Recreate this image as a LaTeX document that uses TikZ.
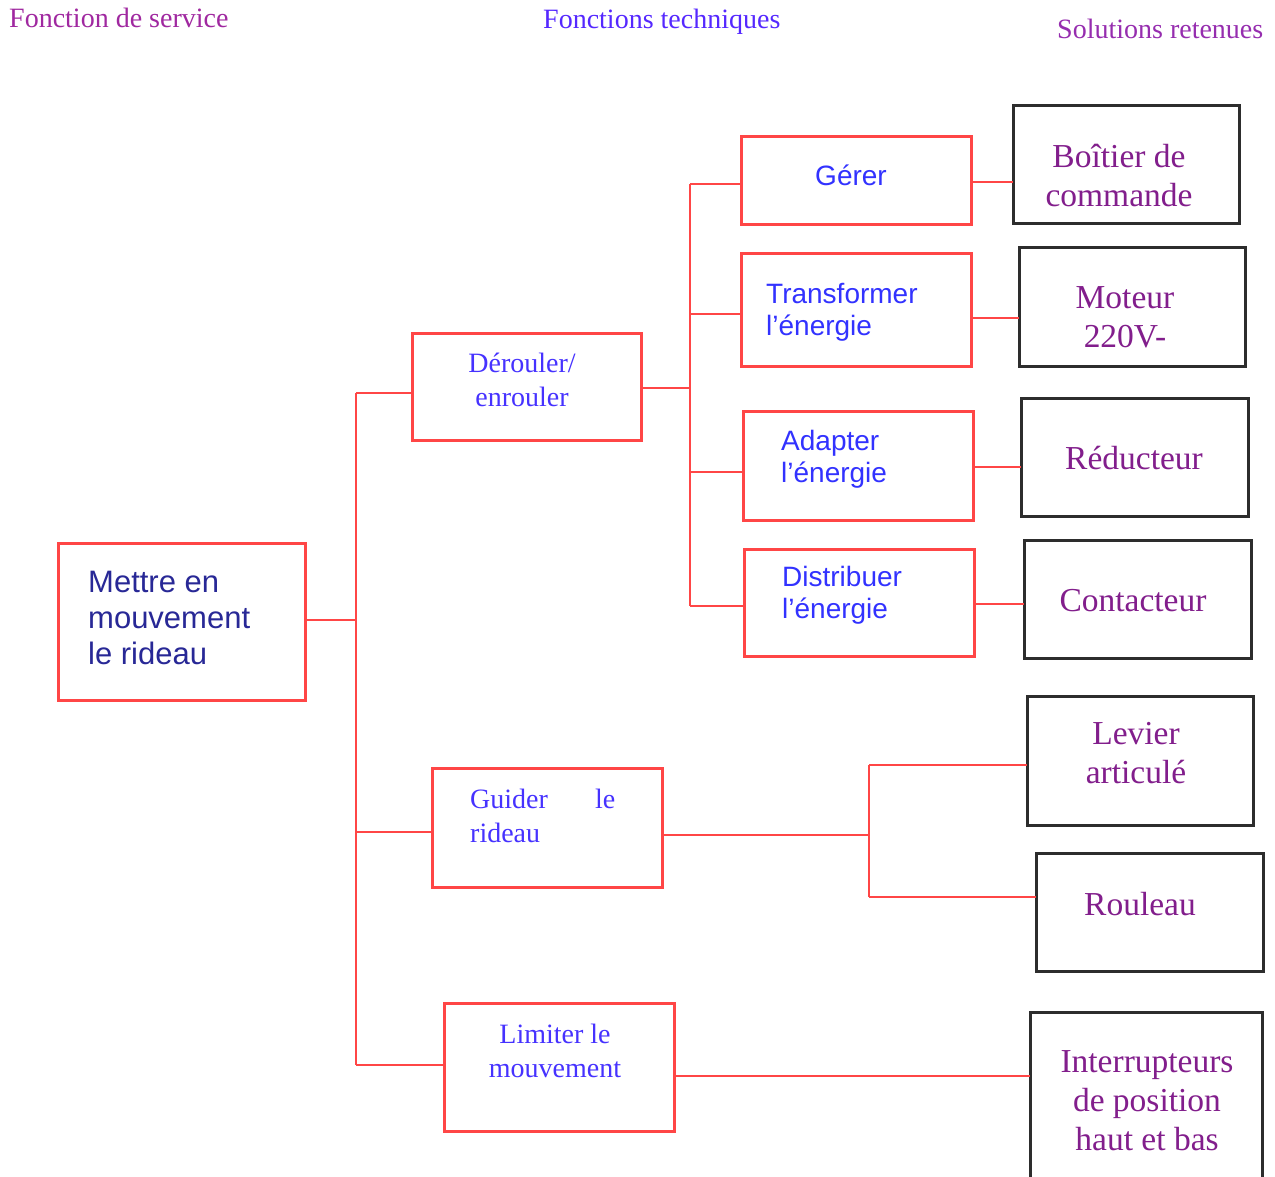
\documentclass[tikz,border=0pt]{standalone}
\usepackage{fontspec}
\setmainfont{Liberation Serif}
\newfontfamily\arialf{Liberation Sans}
\definecolor{redl}{RGB}{255,70,70}
\definecolor{boxk}{RGB}{45,45,45}
\definecolor{hpurple}{RGB}{160,40,160}
\definecolor{hblue}{RGB}{85,40,255}
\definecolor{hsol}{RGB}{150,45,175}
\definecolor{solt}{RGB}{130,30,140}
\definecolor{mett}{RGB}{40,40,150}
\definecolor{fsans}{RGB}{50,50,255}
\definecolor{fserif}{RGB}{70,50,255}
\tikzset{
  fbox/.style={draw=redl, line width=3pt, inner sep=0pt, outer sep=0pt, anchor=north west},
  sbox/.style={draw=boxk, line width=3pt, inner sep=0pt, outer sep=0pt, anchor=north west},
  rl/.style={draw=redl, line width=2.6pt},
  hdr/.style={font=\fontsize{28}{32}\selectfont, inner sep=0pt, anchor=west},
  soltxt/.style={text=solt, font=\fontsize{33.5}{39}\selectfont, align=center, inner sep=0pt},
  sanstxt/.style={text=fsans, font=\arialf\fontsize{28}{32}\selectfont, align=left, inner sep=0pt},
  seriftxt/.style={text=fserif, font=\fontsize{28}{34}\selectfont, align=center, inner sep=0pt},
}
\begin{document}
\begin{tikzpicture}[x=1pt,y=-1pt]
\useasboundingbox (0,0) rectangle (1275,1177);
\fill[white] (0,0) rectangle (1275,1177);
% headers
\node[hdr, text=hpurple] (h1) at (9,18) {Fonction de service};
\node[hdr, text=hblue] (h2) at (543,22) {Fonctions techniques};
\node[hdr, text=hsol] (h3) at (1057,29) {Solutions retenues};
% level 0
\node[fbox, minimum width=247, minimum height=157] (m) at (58,543) {};
\node[text=mett, font=\arialf\fontsize{31}{36}\selectfont, align=left, inner sep=0pt, anchor=west] (mt) at (88,618) {Mettre en\\mouvement\\le rideau};
% level 1
\node[fbox, minimum width=229, minimum height=107] (d) at (412,333) {};
\node[seriftxt] (dt) at (522,380) {Dérouler/\\enrouler};
\node[fbox, minimum width=230, minimum height=119] (gu) at (432,768) {};
\node[seriftxt, align=left, anchor=west] (gut) at (470,816) {\makebox[145pt][s]{Guider\hfill le}\\rideau};
\node[fbox, minimum width=230, minimum height=128] (li) at (444,1003) {};
\node[seriftxt] (lit) at (555,1051) {Limiter le\\mouvement};
% level 2
\node[fbox, minimum width=230, minimum height=88] (ge) at (741,137) {};
\node[sanstxt] (get) at (851,175) {Gérer};
\node[fbox, minimum width=230, minimum height=112] (tr) at (741,254) {};
\node[sanstxt, anchor=west] (trt) at (766,312) {Transformer\\l’énergie};
\node[fbox, minimum width=230, minimum height=109] (ad) at (743,411) {};
\node[sanstxt, anchor=west] (adt) at (781,459) {Adapter\\l’énergie};
\node[fbox, minimum width=230, minimum height=107] (di) at (744,549) {};
\node[sanstxt, anchor=west] (dit) at (782,595) {Distribuer\\l’énergie};
% solutions
\node[sbox, minimum width=226, minimum height=118] (bo) at (1013,106) {};
\node[soltxt] (bot) at (1119,176) {Boîtier de\\commande};
\node[sbox, minimum width=226, minimum height=118] (mo) at (1019,248) {};
\node[soltxt] (mot) at (1125,317) {Moteur\\220V-};
\node[sbox, minimum width=227, minimum height=118] (re) at (1021,398) {};
\node[soltxt] (ret) at (1134,458) {Réducteur};
\node[sbox, minimum width=227, minimum height=118] (co) at (1024,540) {};
\node[soltxt] (cot) at (1133,601) {Contacteur};
\node[sbox, minimum width=226, minimum height=129] (le) at (1027,696) {};
\node[soltxt] (let) at (1136,753) {Levier\\articulé};
\node[sbox, minimum width=227, minimum height=118] (ro) at (1036,853) {};
\node[soltxt] (rot) at (1140,904) {Rouleau};
\node[sbox, minimum width=232, minimum height=200] (in) at (1030,1012) {};
\node[soltxt] (int) at (1147,1101) {Interrupteurs\\de position\\haut et bas};
% trunk
\coordinate (tA) at (356,393);
\coordinate (tM) at (356,620);
\coordinate (tG) at (356,832);
\coordinate (tL) at (356,1065);
\draw[rl] (tA) -- (tL);
\draw[rl] (m.east |- tM) -- (tM);
\draw[rl] (tA) -- (d.west |- tA);
\draw[rl] (tG) -- (gu.west |- tG);
\draw[rl] (tL) -- (li.west |- tL);
% second vertical
\coordinate (s1) at (690,184);
\coordinate (s2) at (690,314);
\coordinate (s3) at (690,472);
\coordinate (s4) at (690,606);
\coordinate (sd) at (690,388);
\draw[rl] (s1) -- (s4);
\draw[rl] (d.east |- sd) -- (sd);
\draw[rl] (s1) -- (ge.west |- s1);
\draw[rl] (s2) -- (tr.west |- s2);
\draw[rl] (s3) -- (ad.west |- s3);
\draw[rl] (s4) -- (di.west |- s4);
% to solutions
\coordinate (c1) at (990,182);
\coordinate (c2) at (990,318);
\coordinate (c3) at (990,467);
\coordinate (c4) at (990,604);
\draw[rl] (ge.east |- c1) -- (bo.west |- c1);
\draw[rl] (tr.east |- c2) -- (mo.west |- c2);
\draw[rl] (ad.east |- c3) -- (re.west |- c3);
\draw[rl] (di.east |- c4) -- (co.west |- c4);
% guider branch
\coordinate (u0) at (869,835);
\coordinate (u1) at (869,765);
\coordinate (u2) at (869,897);
\draw[rl] (gu.east |- u0) -- (u0);
\draw[rl] (u1) -- (u2);
\draw[rl] (u1) -- (le.west |- u1);
\draw[rl] (u2) -- (ro.west |- u2);
% limiter
\coordinate (l0) at (800,1076);
\draw[rl] (li.east |- l0) -- (in.west |- l0);
\end{tikzpicture}
\end{document}
